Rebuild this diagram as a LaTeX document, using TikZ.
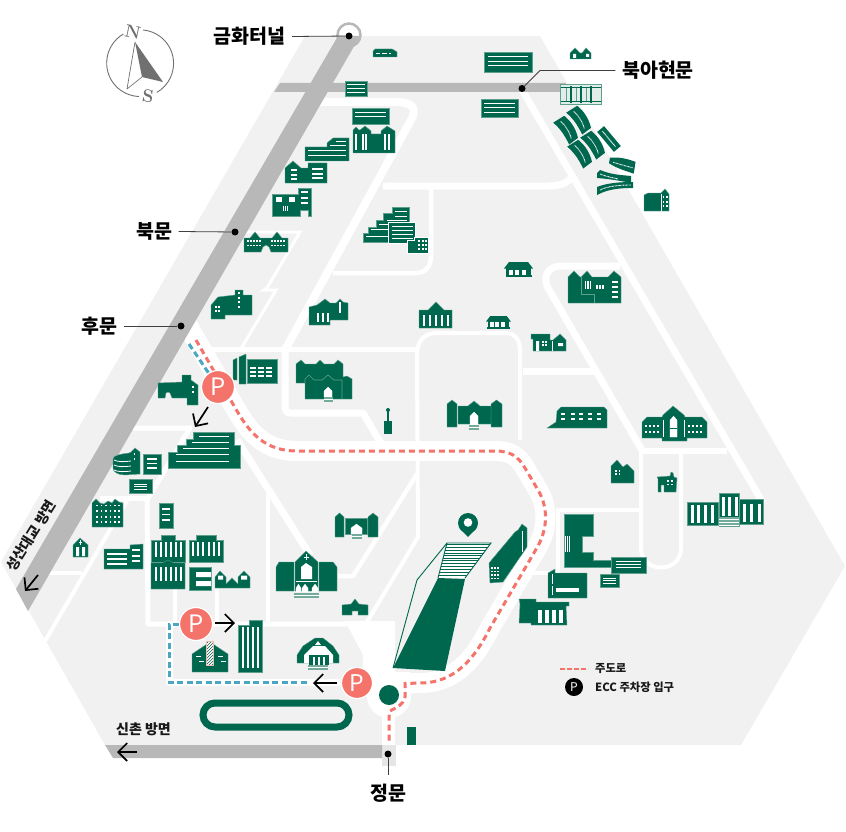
\documentclass[tikz,border=0pt]{standalone}
\usepackage{fontspec}
\usetikzlibrary{arrows.meta,patterns}
\newfontfamily\kor{Noto Sans CJK KR}
\definecolor{ewha}{HTML}{00674F}
\definecolor{ewhaedge}{HTML}{5FA08C}
\definecolor{ewhastep}{HTML}{74AB9B}
\definecolor{campus}{HTML}{F1F1F1}
\definecolor{roadgray}{HTML}{B8B8B8}
\definecolor{gategray}{HTML}{E6E6E6}
\definecolor{palegreen}{HTML}{E2EDE9}
\definecolor{mainred}{HTML}{F4736A}
\definecolor{parkblue}{HTML}{4BA6C4}
\definecolor{compassgray}{HTML}{707070}
\definecolor{hatchpink}{HTML}{F0B8B0}
% window helpers
\newcommand{\hlines}[4][1]{\foreach \y in {#4}{\draw[white,line width=#1pt] (#2,\y)--(#3,\y);}}
\newcommand{\vlines}[4][1.2]{\foreach \x in {#4}{\draw[white,line width=#1pt] (\x,#2)--(\x,#3);}}
\newcommand{\wingrid}[2]{\foreach \x in {#1}{\foreach \y in {#2}{\fill[white] (\x-.9,\y-.9) rectangle (\x+.9,\y+.9);}}}
\newcommand{\tower}[5][bld]{\draw[#1] (#2,#5)--(#2,#4+4)--({(#2+#3)/2},#4)--(#3,#4+4)--(#3,#5)--cycle;}
\newcommand{\stairs}[4]{\fill[ewhastep] (#1,#3) rectangle (#2,#4);\draw[white,line width=.5pt] (#1,{(#3+#4)/2})--(#2,{(#3+#4)/2});}
\newcommand{\hanok}[3]{\begin{scope}[shift={(#1,#2)},scale=#3]
    \fill[ewha] (0,6.5)--(5,0)--(24,0)--(29,6.5)--cycle;
    \fill[ewha] (2,6) rectangle (27,13);
    \fill[ewha] (1.5,13) rectangle (27.5,15);
    \foreach \x in {5,11,18}{\fill[white] (\x,7.5) rectangle (\x+4,12.8);}
    \end{scope}}
\newcommand{\wing}[3]{\begin{scope}[shift={(#1,#2)},rotate=#3]
    \fill[ewha] (-13,-6) .. controls (-4,-9) and (4,-9) .. (13,-6) -- (14,5) .. controls (4,4) and (-4,4) .. (-13,7) -- cycle;
    \draw[white,line width=.9pt,dash pattern=on .8pt off .6pt] (-10,0) .. controls (-4,-2) and (4,-2) .. (10,0);
    \end{scope}}
% centre line of the main road, from a given start
\newcommand{\mainroad}[1]{#1--(237,411) .. controls (250,433) and (265,451) .. (297,451)--(495,451) .. controls (510,451) and (518,456) .. (525,468)--(538,490) .. controls (548,507) and (548,527) .. (538,546)--(490,628) .. controls (475,658) and (455,683) .. (420,683)--(405,683.5)}

\begin{document}
\begin{tikzpicture}[x=1pt,y=1pt,yscale=-1,>={Straight Barb[length=9pt,width=18pt]},
    bld/.style={fill=ewha,draw=ewhaedge,line width=.4pt},
    opening/.style={fill=white,draw=white,line width=.1pt},
    road/.style={draw=white,line width=7pt,line join=round},
    lane/.style={draw=white,line width=4.5pt,line join=round},
    arrowline/.style={draw=black,line width=1.7pt,->},
    dot/.style={circle,fill=black,minimum size=7pt,inner sep=0pt},
    leader/.style={draw=black!75,line width=.8pt},
    bigtext/.style={font=\kor\bfseries\fontsize{19.5}{19.5}\selectfont,text=black,inner ysep=0pt,inner xsep=6.5pt},
    smalltext/.style={font=\kor\bfseries\fontsize{14}{14}\selectfont,text=black!90,inner sep=0pt},
    legendtext/.style={font=\kor\bfseries\fontsize{11.3}{11.3}\selectfont,text=black!90,inner sep=0pt,anchor=west},
    pmark/.style={circle,fill=mainred,draw=white,line width=1.2pt,text=white,minimum size=33pt,inner sep=0pt,font=\kor\fontsize{24}{24}\selectfont},
    compassletter/.style={font=\bfseries\fontsize{18}{18}\selectfont,text=compassgray,inner sep=0pt}]
    \useasboundingbox (0,0) rectangle (846,832);

    % campus ground
    \fill[campus] (305,36)--(540,36)--(845,566)--(741,745)--(105,745)--(1,562)--cycle;
    \fill[gategray] (382,745) rectangle (396,766);

    % white roads
    \draw[road] (521,88)--(763,503);
    \draw[road,line width=8pt] (320,102)--(395,102) .. controls (412,102) and (418,108) .. (411,120)--(285,350);
    \draw[road] (383,186)--(548,186) .. controls (562,186) and (570,182) .. (572,175);
    \draw[lane] (431,186)--(431,255) .. controls (431,268) and (425,273) .. (415,273)--(333,273);
    \draw[draw=white,line width=3pt] (245,232)--(300,232)--(267,288)--(264,290)--(276,290)--(242,347);
    \draw[lane,line width=5pt] (205,349)--(417,349);
    \draw[road] (285,349)--(285,408) .. controls (285,411) and (287,413) .. (291,413)--(363,413)--(383,447);
    \draw[lane,line width=4pt] (367,622)--(418,537)--(417,355) .. controls (417,340) and (425,333) .. (437,333)--(505,333) .. controls (515,333) and (520,340) .. (520,350)--(520,440);
    \draw[lane] (417,474)--(353,576)--(338,576);
    \draw[road] (620,266)--(562,266) .. controls (546,266) and (543,278) .. (548,288)--(643,452);
    \draw[road] (523,371)--(595,371);
    \draw[lane,line width=6pt] (642,451)--(727,451);
    \draw[lane,line width=4pt] (641,451)--(641,548) .. controls (641,574) and (681,574) .. (681,548)--(681,451);
    \draw[lane,line width=4pt] (641,510)--(558,510)--(558,573)--(530,573);
    \draw[road] (237,440)--(310,555);
    \draw[lane] (268,492)--(268,624);
    \draw[lane,line width=5pt] (347,624)--(148,624)--(147,500)--(190,428)--(133,428);
    \draw[lane,line width=5pt] (100,498)--(148,498);
    \draw[lane,line width=4pt] (128,499)--(45,641);
    \draw[lane,line width=4pt] (48,573)--(82,573);
    \foreach \x/\ytop in {175/587,217/588}
    {
        \draw[lane,line width=3.5pt] (\x,\ytop)--(\x,624);
    }
    \draw[road] (175,624)--(169,624)--(169,682)--(340,682);

    % main road band and plaza
    \draw[draw=white,line width=20pt] \mainroad{(185,321)};
    \fill[white] (345,621)--(395,621)--(395,672)--(410,672)--(410,694)--(363,690)--(363,655)--cycle;
    \fill[white] (389,696) circle[radius=22];
    \fill[white] (382,710) rectangle (395,745);

    % grey streets
    \fill[roadgray] (280,83)--(566,83)--(560,92)--(274,92)--cycle;
    \draw[roadgray,line width=2.5pt,fill=white] (349,35) circle[radius=11.5];
    \fill[roadgray] (338,36)--(360,36)--(28,611)--(16,589)--cycle;
    \fill[roadgray] (105,745)--(382,745)--(382,758)--(113,758)--cycle;

    % north row
    \draw[bld] (373,57)--(373,51)--(375,49)--(392,49)--(394,50)--(397,52)--(397,57)--cycle;
    \hlines[1.5]{376}{380}{53.5}\hlines[1.5]{382}{387}{53.5}\hlines[1.5]{389}{391}{53.5}
    \draw[bld] (345,81) rectangle (367,96);\hlines{347}{365}{85,89,93}
    \draw[bld] (352,108) rectangle (389,124);\hlines{355}{386}{112.5,117}
    \draw[bld] (353,153)--(353,130)--(356,127)--(359,130)--(360,130)--(365,126)--(371,131)--(371,134)--(381,134)--(381,131)--(387,126)--(395,131)--(395,153)--cycle;
    \vlines{134}{150}{356,363,366,385,389}
    \draw[bld] (484,52) rectangle (532,72);\hlines{488}{528}{57,62,66}
    \draw[bld] (481,99) rectangle (518,117);\hlines{484}{515}{104,108,113}
    \draw[bld] (570,59)--(570,53)--(575,48)--(580,53)--(582,53)--(586,48)--(591,53)--(591,59)--cycle;
    \fill[white] (573,54) rectangle (576,58) (586,54) rectangle (589,57);
    \draw[draw=ewhaedge,fill=palegreen,line width=1pt] (560.5,84.5) rectangle (601.5,104.5);
    \foreach \x in {571,581,591}
    {
        \draw[ewha,line width=1.1pt] (\x,86)--(\x,103);
        \draw[ewhaedge,line width=.8pt] (\x-5,88)--(\x-5,101);
    }
    \draw[ewha,line width=.9pt] (561,87)--(601,87) (561,101.5)--(601,101.5);

    % west side, along the street
    \draw[bld] (305,161)--(305,147)--(327,147)--(327,143)--(333,138)--(349,138)--(349,161)--cycle;
    \hlines{336}{346}{141.5}\hlines{330}{346}{145.5}\hlines{308}{346}{151,155.5}
    \draw[bld] (285,183)--(285,168)--(293,161)--(301,168)--(308,168)--(308,163)--(327,163)--(327,183)--cycle;
    \hlines[1.5]{291}{297}{170,175,179}\hlines[1.5]{312}{323}{169,174,178}
    \draw[bld] (272,216)--(272,194)--(298,194)--(298,188)--(311,188)--(311,216)--(308,216)--(308,210)--(300,210)--(300,216)--cycle;
    \vlines{197}{202}{277,279,281,290,292,294}\vlines{206}{211}{283.5,285.5,287.5}
    \hlines[1.2]{301}{308}{192,198,203}
    \draw[bld] (244,252)--(244,238)--(250,238)--(255,232)--(260,238)--(272,238)--(277,232)--(282,238)--(288,238)--(288,252)--(271,252)--(269,247)--(266,245)--(263,247)--(261,252)--cycle;
    \wingrid{248,251,254,257,260,272,275,278,281,284}{241,245.5}
    \draw[bld] (211,319)--(211,305)--(218,297)--(235,295)--(235,290)--(243,290)--(243,295)--(252,295)--(252,315)--(225,315)--(225,319)--cycle;
    \wingrid{216,219}{307,311}\wingrid{239}{293,298,302,307}
    \draw[bld] (158,398)--(158,383)--(182,382)--(182,375)--(191,375)--(191,380)--(198,385)--(198,405)--(187,405)--(187,398)--(172,398)--(170,393)--(168,392)--(166,393)--(165,398)--cycle;
    \wingrid{193}{387,392}
    \draw[bld] (233,380)--(233,360)--(237,358)--(237,380)--cycle;
    \draw[bld] (239,384)--(239,357)--(246,354)--(246,384)--cycle;
    \draw[bld] (247,359) rectangle (277,383);
    \foreach \x in {250,258,266}
    {
        \hlines[1.5]{\x}{\x+5.5}{368,372,376}
    }
    % stepped hall on the hill
    \draw[bld] (363,242)--(363,233)--(368,233)--(368,227)--(376,227)--(376,220)--(383,220)--(383,213)--(392,213)--(392,207)--(409,207)--(409,222)--(388,222)--(388,242)--cycle;
    \hlines{395}{407}{211,216}\hlines{387}{407}{220}\hlines{379}{388}{224}\hlines{371}{388}{229}\hlines{366}{388}{236}
    \draw[fill=ewha,draw=white,line width=.6pt] (388,222) rectangle (415,243);
    \hlines{392}{413}{226,230,234,238}
    \draw[fill=ewha,draw=white,line width=.6pt] (407,253)--(407,240)--(414,240)--(414,237)--(428,237)--(428,253)--cycle;
    \wingrid{419,423,426}{241,245,249}

    % middle of the campus
    \draw[bld] (309,325)--(309,307)--(317,305)--(325,299)--(330,303)--(336,303)--(340,299)--(343,302)--(348,303)--(348,320)--(330,320)--(330,325)--cycle;
    \vlines{313}{322}{318,323,328}\vlines{302}{313}{340}
    \draw[bld] (296,383)--(296,364)--(301,360)--(305,364)--(316,364)--(320,360)--(324,364)--(334,364)--(338,360)--(343,364)--(343,377)--(347,376)--(352,379)--(352,399)--(305,399)--(305,383)--cycle;
    \draw[ewhaedge,line width=.6pt] (305,383)--(305,379)--(309,375)--(314,380)--(322,380)--(328,375)--(334,380)--(342,380)--(342,399);
    \tower[opening]{324}{332}{387}{397}
    \stairs{324}{333}{397}{402}
    \tower{447}{457}{400}{427}\tower{491}{502}{400}{427}
    \draw[bld] (458,424)--(458,406)--(468,406)--(474,401)--(480,406)--(491,406)--(491,424)--cycle;
    \tower[opening]{470}{478}{412}{425}
    \stairs{469}{479}{425}{430}
    \fill[ewha] (384,421) rectangle (392,434);
    \fill[ewha] (387,411) rectangle (389,421);
    \fill[ewha] (388,410) circle[radius=2];
    \hanok{504}{262}{1}
    \hanok{486}{316}{.86}
    \draw[bld] (419,328)--(419,310)--(428,310)--(436,302)--(444,310)--(452,310)--(452,328)--cycle;
    \vlines[2.2]{315}{326}{424,430,436,442,448}
    \draw[bld] (531,334)--(550,334)--(550,340)--(553,340)--(560,334)--(566,340)--(566,351)--(533,351)--(533,339)--(531,339)--cycle;
    \fill[white] (536,341) rectangle (539,351) (558,343) rectangle (563,346);
    \wingrid{543,546}{342,345}
    \draw[white,line width=.5pt] (552,341)--(552,351);
    \draw[bld] (568,303)--(568,277)--(574,271)--(580,277)--(581,277)--(587,271)--(592,277)--(608,277)--(614,271)--(621,277)--(621,303)--cycle;
    \draw[ewhaedge,line width=.6pt] (581,277)--(581,294)--(594,294)--(594,303);
    \vlines{281}{289}{585.5,588,590.5}\vlines{285}{289}{597,600,603}
    \hlines[1.5]{612}{618}{282,287,292,297}

    % dormitory wings, north east
    \wing{579}{120}{58}
    \wing{566}{130}{58}
    \wing{593}{145}{58}
    \wing{580}{154}{58}
    \begin{scope}[shift={(609,139)},rotate=50]
        \fill[ewha] (-13,-4.5) rectangle (13,4.5);
        \draw[white,line width=1pt,dash pattern=on .8pt off .6pt] (-10,0)--(10,0);
    \end{scope}
    \begin{scope}[shift={(622,164.5)},rotate=9,yscale=.8]
        \fill[ewha] (-13,-6) .. controls (-4,-9) and (4,-8) .. (13,-6) -- (13,9) .. controls (4,7) and (-4,6) .. (-13,1) -- cycle;
        \draw[white,line width=.9pt,dash pattern=on .8pt off .6pt] (-9,-1) .. controls (-4,0) and (4,1) .. (11,2);
    \end{scope}
    \fill[ewha] (597,173)--(600,170) .. controls (612,175) and (622,175) .. (631,176)--(631,183) .. controls (622,181) and (610,179) .. (597,178)--cycle;
    \draw[white,line width=.9pt,dash pattern=on .8pt off .6pt] (600,174) .. controls (608,177) and (614,178) .. (618,179);
    \fill[ewha] (597,195)--(597,187) .. controls (607,183) and (620,182) .. (633,182)--(633,188) .. controls (620,188) and (608,189) .. (597,195)--cycle;
    \draw[white,line width=.9pt,dash pattern=on .8pt off .6pt] (600,190) .. controls (608,186) and (620,185) .. (631,185);
    \draw[bld] (644,211)--(644,195)--(648,193)--(661,193)--(665,189)--(669,194)--(669,211)--cycle;
    \wingrid{663.5,667}{197,202,206}
    \draw[white,line width=.4pt] (661,194)--(661,211);

    % east side
    \draw[bld] (547,428)--(556,422)--(557,411)--(561,407)--(604,407)--(607,410)--(607,428)--cycle;
    \foreach \x in {561,571,579,588,597}
    {
        \hlines[1.5]{\x}{\x+4}{414,419}
    }
    \draw[bld] (642,438)--(642,422)--(647,417)--(662,417)--(663,415)--(673,406)--(684,415)--(685,417)--(702,417)--(707,422)--(707,438)--(687,438)--(687,441)--(662,441)--(662,438)--cycle;
    \wingrid{646,650,654,658,689,693,697,701}{426,432}
    \tower[opening]{670}{677}{416}{437}
    \draw[ewha,line width=1pt] (670,428)--(677,428);
    \vlines[1]{420}{437}{663.5,684}
    \draw[bld] (611,483)--(611,466)--(617,460)--(623,467)--(627,464)--(634,471)--(634,483)--cycle;
    \wingrid{616,619.5}{471,474}
    \draw[bld] (657,477)--(670,476)--(671,472)--(673,473)--(674,477)--(677,478)--(676,492)--(664,492)--(664,485)--(661,485)--(661,492)--(658,492)--(658,479)--cycle;
    \wingrid{668,672}{481,484.5}
    \draw[bld] (687,502) rectangle (718,525);
    \vlines[3]{505}{523}{692,698,705,712}
    \draw[bld] (719,493) rectangle (739,526);
    \vlines[3]{497}{516}{723,729,736}
    \fill[ewhastep] (719,517) rectangle (739,526);
    \hlines[.5]{719}{739}{519,522,525}
    \draw[bld] (739,499) rectangle (763,524);
    \vlines[3]{504}{522}{744,751,759}
    \draw[bld] (564,514)--(593,514)--(593,536)--(582,536)--(582,552)--(593,552)--(593,560)--(611,560)--(611,567)--(564,567)--cycle;
    \vlines[.8]{536}{552}{565,567,569}
    \draw[bld] (611,557) rectangle (646,573);
    \hlines{616}{641}{561,564,567}
    \draw[bld] (600,574) rectangle (619,587);
    \hlines[.8]{603}{616}{578,580.5,583}
    \draw[bld] (548,573)--(555,569)--(555,573)--(587,573)--(587,598)--(548,598)--cycle;
    \fill[white] (556,588) rectangle (579,592);
    \vlines[.9]{574}{584}{552}\vlines[.9]{586}{595}{552}
    \draw[bld] (519,599)--(536,599)--(536,602)--(569,602)--(569,606)--(566,606)--(567,625)--(531,625)--(531,623)--(519,623)--(520,604)--cycle;
    \vlines[4]{610}{623}{540,547,554,561}

    % ECC
    \fill[white] (447,543)--(491,543)--(465,578)--(438,578)--cycle;
    \foreach \y in {544,547,550,553,555.5,558,560.5,563,566,569,572,575}
    {
        \draw[ewha,line width=.7pt] ({447-(\y-543)*.257},\y)--({491-(\y-543)*.743},\y);
    }
    \draw[ewha,line width=.9pt] (393,668)--(417,580)--(447,543)--(491,543)--(465,578);
    \draw[ewha,line width=.9pt] (447,543)--(438,578);
    \fill[ewha] (438,578)--(465,579)--(445,671)--(393,668)--cycle;
    \draw[bld] (489,563)--(515,532)--(518,530)--(522,524)--(527,528)--(527,547)--(503,582)--(490,583)--cycle;
    \wingrid{492,495,498}{568,571.5,575,578.5}
    \draw[white,line width=.5pt] (522,531)--(522,552);
    \fill[ewha] (468,537)--(459.3,528)--(476.7,528)--cycle;
    \fill[ewha] (468,523) circle[radius=10];
    \fill[white] (468,522.5) circle[radius=4.3];

    % north west of the main road
    \draw[bld] (113,468)--(113,459) .. controls (113,455) and (122,454) .. (129,453)--(131,452)--(135,448)--(140,452)--(140,474)--(125,475) .. controls (118,475) and (113,472) .. (113,468)--cycle;
    \foreach \y in {460,465,470}
    {
        \draw[white,line width=.8pt] (114,\y) .. controls (118,\y+2) and (124,\y+2) .. (131,\y+1);
    }
    \wingrid{134.5}{454,459}
    \draw[bld] (143,454) rectangle (161,474);\hlines[1.5]{147}{157}{459,463.5,468}
    \draw[bld] (129,479) rectangle (152,493);\hlines[.9]{134}{147}{484,486.5,489}
    \draw[bld] (168,468)--(168,452)--(177,452)--(177,445)--(186,445)--(186,439)--(193,439)--(193,432)--(234,432)--(234,445)--(240,445)--(240,468)--cycle;
    \hlines{199}{229}{436}\hlines{192}{229}{442}\hlines{183}{229}{448}\hlines{176}{229}{454,461}
    \draw[bld] (92,527)--(92,503)--(96,499)--(100,503)--(104,504)--(108,501)--(112,503)--(115,499)--(119,502)--(123,503)--(123,527)--cycle;
    \wingrid{97,101.5,106,110.5,115,119}{505.5,511,517,522}
    \draw[bld] (159,503) rectangle (173,528);\hlines[1.5]{162}{170}{509,514.5,520}
    \draw[bld] (73,557)--(73,545)--(80,538)--(88,545)--(88,557)--cycle;
    \fill[white] (76,547) rectangle (79,556) (82,547) rectangle (85,556);
    \draw[white,line width=.5pt] (80.5,540)--(80.5,545) (79,542)--(82,542);
    \draw[bld] (104,569)--(104,549)--(130,549)--(130,545)--(143,544)--(143,569)--cycle;
    \hlines[1.3]{107}{127}{554,559,564}\hlines[1.3]{132}{140}{550,556,561}

    % quad of halls
    \draw[bld] (151,562)--(151,540)--(161,540)--(161,535)--(175,535)--(175,540)--(185,540)--(185,562)--cycle;
    \vlines[1.8]{542}{557}{156,161,166,171,176,181}
    \draw[bld] (151,589)--(151,563)--(162,563)--(168,560)--(174,563)--(185,563)--(185,589)--cycle;
    \vlines[1.8]{567}{581}{156,161,166,171,176,181}
    \draw[bld] (189,562)--(189,540)--(196,540)--(196,535)--(216,535)--(216,540)--(223,540)--(223,562)--cycle;
    \vlines[1.8]{542}{556}{193,198,203,209,214,219}
    \draw[bld] (189,567) rectangle (211,590);
    \fill[white] (196,572) rectangle (211,577) (196,581) rectangle (211,586);
    \draw[bld] (215,588)--(215,577)--(220,571)--(226,577)--(226,584)--(232,578)--(238,584)--(238,577)--(244,571)--(250,577)--(250,588)--cycle;
    \fill[white] (218,575.5) rectangle (223,579.5) (241,575.5) rectangle (247,579.5);

    % chapel and the south west
    \draw[bld] (276,591)--(276,567)--(279,562)--(294,562)--(294,591)--cycle;
    \draw[bld] (319,591)--(319,562)--(333,562)--(337,567)--(337,591)--cycle;
    \draw[bld] (295,591)--(295,562)--(306,551)--(318,562)--(318,591)--cycle;
    \fill[white] (301,579)--(301,567)--(306,563)--(312,567)--(312,579)--cycle;
    \draw[white,line width=.7pt] (306.5,554)--(306.5,560) (304,557)--(309,557) (296,581)--(317,581);
    \tower[opening]{296}{301}{584}{592}\tower[opening]{302}{308}{584}{592}\tower[opening]{312}{318}{584}{592}
    \stairs{294}{319}{593}{598}
    \tower{335}{344}{513}{537}\tower{368}{378}{513}{537}
    \draw[bld] (345,534) rectangle (367,518);
    \tower[opening]{351}{362}{524}{534}
    \stairs{352}{362}{534}{539}
    \draw[bld] (342,615)--(342,605)--(351,604)--(355,599)--(359,604)--(368,605)--(368,615)--(358,615)--(358,611)--(352,611)--(352,615)--cycle;
    \draw[bld] (238,672)--(238,625)--(249,625)--(249,620)--(262,620)--(262,672)--cycle;
    \vlines[2]{627}{668}{242.5,247.5,252.5,257.5}
    \draw[bld] (192,672)--(192,654)--(210,642)--(228,654)--(228,672)--cycle;
    \foreach \x/\y in {196/656,199/661,218/656,221/661}
    {
        \draw[white,line width=.7pt] (\x,\y)--(\x+5,\y);
    }
    \fill[white] (206,641) rectangle (213,665);
    \draw[draw=hatchpink,line width=.6pt,pattern=north east lines,pattern color=ewha] (206,641) rectangle (213,665);
    \draw[bld] (297,663)--(297,655)--(303,646)--(315,638)--(323,638)--(333,646)--(339,655)--(339,663)--cycle;
    \fill[white] (304,663)--(304,655)--(313,646)--(325,646)--(333,655)--(333,663)--cycle;
    \fill[white] (318,641)--(315,645)--(321,645)--cycle;
    \fill[ewha] (309,655) rectangle (329,665);
    \vlines[1.8]{657}{665}{314,319,324}
    \stairs{308}{328}{665}{670}
    \draw[ewha,line width=7pt,rounded corners=12pt] (203,703) rectangle (349,727);
    \fill[ewha] (407,727) rectangle (416,745);

    % routes
    \draw[mainred,line width=3pt,dash pattern=on 6pt off 4pt] \mainroad{(196,340)}--(405,697) .. controls (404,705) and (395,708) .. (390,711)--(389,717)--(389,741);
    \node[pmark] (parkA) at (218,387) {P};
    \node[pmark] (parkB) at (196,624) {P};
    \node[pmark,minimum size=31pt,font=\kor\fontsize{23}{23}\selectfont] (parkC) at (357,683) {P};
    \coordinate (blueTop) at (189,344);
    \coordinate (blueLeft) at (169,624);
    \coordinate (blueLow) at (169,682);
    \coordinate (blueEnd) at (308,682);
    \draw[parkblue,line width=3pt,dash pattern=on 6pt off 3.5pt] (blueTop)--(parkA);
    \draw[parkblue,line width=3pt,dash pattern=on 6pt off 3.5pt] (parkB)--(blueLeft)--(blueLow)--(blueEnd);
    \fill[ewha] (389,695) circle[radius=10];

    % arrows
    \coordinate (arrowAa) at (208,407);
    \coordinate (arrowAb) at (195,427);
    \coordinate (arrowBa) at (215,623);
    \coordinate (arrowBb) at (235,623);
    \coordinate (arrowCa) at (337,683);
    \coordinate (arrowCb) at (313,683);
    \coordinate (arrowDa) at (38,575);
    \coordinate (arrowDb) at (25,591);
    \coordinate (arrowEa) at (137,752);
    \coordinate (arrowEb) at (117,752);
    \draw[arrowline] (arrowAa)--(arrowAb);
    \draw[arrowline] (arrowBa)--(arrowBb);
    \draw[arrowline] (arrowCa)--(arrowCb);
    \draw[arrowline] (arrowDa)--(arrowDb);
    \draw[arrowline] (arrowEa)--(arrowEb);

    % gates and their labels
    \node[dot] (dotTunnel) at (349,36) {};
    \node[dot] (dotNorth) at (235,232) {};
    \node[dot] (dotBack) at (181,326) {};
    \node[dot] (dotBukahyeon) at (522,88.5) {};
    \node[dot] (dotMain) at (388,754) {};
    \node[bigtext] (tunnel) at (249.5,36.5) {금화터널};
    \node[bigtext] (north) at (154,231.5) {북문};
    \node[bigtext] (back) at (99.5,326) {후문};
    \node[bigtext] (bukahyeon) at (658,70.5) {북아현문};
    \node[bigtext,inner xsep=0pt,inner ysep=9pt] (mainGate) at (388,793.5) {정문};
    \coordinate (bendBukahyeon) at (540,70.5);
    \draw[leader] (tunnel.east)--(dotTunnel);
    \draw[leader] (north.east)--(dotNorth);
    \draw[leader] (back.east)--(dotBack);
    \draw[leader] (bukahyeon.west)--(bendBukahyeon)--(dotBukahyeon);
    \draw[leader] (mainGate.north)--(dotMain);

    \node[smalltext,rotate=58] (towardBridge) at (31,536) {성산대교 방면};
    \node[smalltext] (towardSinchon) at (143.5,729) {신촌 방면};

    % legend
    \coordinate (legendA) at (560,669);
    \coordinate (legendB) at (588,669);
    \draw[mainred,line width=1.5pt,dash pattern=on 5pt off 2pt] (legendA)--(legendB);
    \node[legendtext] (legendRoad) at (595,668.5) {주도로};
    \node[circle,fill=black,text=white,minimum size=18pt,inner sep=0pt,font=\kor\fontsize{12}{12}\selectfont] (legendPark) at (574,687) {P};
    \node[legendtext] (legendText) at (595,687) {ECC 주차장 입구};

    % compass
    \draw[compassgray,line width=.9pt] (143,30) arc[start angle=-85,end angle=60,radius=33.5];
    \draw[compassgray,line width=.9pt] (139,96.5) arc[start angle=92,end angle=240,radius=33.5];
    \fill[compassgray] (135,42)--(163,82)--(142,77)--cycle;
    \draw[compassgray,line width=.7pt,line join=round] (135,42)--(127,89)--(142,77);
    \node[compassletter,rotate=-12] (compassN) at (133,32) {N};
    \node[compassletter,rotate=-8] (compassS) at (148,96) {S};
\end{tikzpicture}
\end{document}
